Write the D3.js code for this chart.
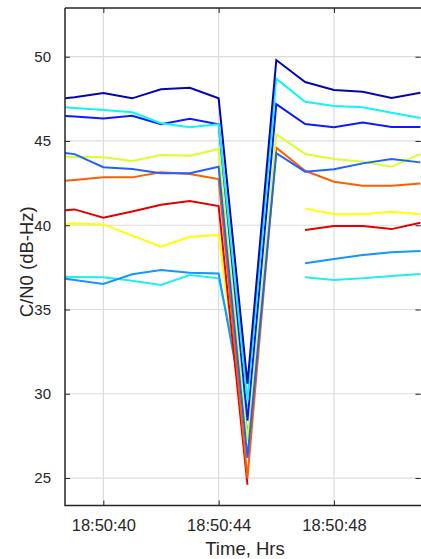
<!DOCTYPE html>
<html>
<head>
<meta charset="utf-8">
<script src="https://cdn.jsdelivr.net/npm/d3@7"></script>
<style>
  html, body { margin: 0; padding: 0; background: #fff; }
  svg { display: block; font-family: "Liberation Sans", Arial, Helvetica, sans-serif; }
</style>
</head>
<body>
<svg id="chart" width="421" height="559"></svg>
<script>
// C/N0 per satellite around 18:50:44 (seconds within 18:50)
const seconds = [38, 39, 40, 41, 42, 43, 44, 45, 46, 47, 48, 49, 50, 51];

const darkBlue   = [47.40, 47.60, 47.85, 47.53, 48.07, 48.16, 47.53, 30.6, 49.80, 48.50, 48.02, 47.92, 47.55, 47.86];
const cyan       = [47.08, 46.96, 46.84, 46.70, 46.05, 45.81, 45.99, 29.6, 48.70, 47.33, 47.07, 47.00, 46.68, 46.36];
const blue       = [46.56, 46.45, 46.34, 46.50, 46.00, 46.32, 45.99, 28.4, 47.19, 46.00, 45.81, 46.10, 45.83, 45.83];
const azure      = [44.40, 44.22, 43.44, 43.34, 43.08, 43.08, 43.47, 26.2, 44.27, 43.18, 43.32, 43.67, 43.93, 43.73];
const lime       = [44.09, 44.06, 44.03, 43.81, 44.17, 44.12, 44.52, 27.2, 45.40, 44.23, 43.93, 43.77, 43.47, 44.23];
const orange     = [42.54, 42.69, 42.84, 42.84, 43.14, 43.04, 42.74, 25.0, 44.60, 43.23, 42.58, 42.34, 42.34, 42.48];
const red        = [40.80, 40.94, 40.45, 40.82, 41.22, 41.44, 41.14, 24.6, null, 39.72, 39.95, 39.95, 39.77, 40.15];
const yellow     = [40.00, 40.10, 40.05, 39.38, 38.72, 39.32, 39.42, 26.6, null, 41.00, 40.65, 40.65, 40.80, 40.65];
const skyBlue    = [37.00, 36.75, 36.51, 37.09, 37.34, 37.18, 37.14, 27.8, null, 37.74, 37.99, 38.23, 38.39, 38.47];
const aqua       = [36.95, 36.93, 36.91, 36.71, 36.45, 37.04, 36.85, 29.2, null, 36.91, 36.75, 36.85, 36.99, 37.10];

const series = [
  { color: "#1ff0ec", values: aqua },
  { color: "#1296ff", values: skyBlue },
  { color: "#ffff00", values: yellow },
  { color: "#e30000", values: red },
  { color: "#ff5e00", values: orange },
  { color: "#dcff28", values: lime },
  { color: "#1f62ff", values: azure },
  { color: "#0a1cff", values: blue },
  { color: "#10f4f4", values: cyan },
  { color: "#0505b4", values: darkBlue }
];

const xTicks = [40, 44, 48];
const yTicks = [25, 30, 35, 40, 45, 50];

// layout
const M = { left: 65, right: 0, top: 8, bottom: 53.5 };
const W = 421 - M.left - M.right;
const H = 559 - M.top - M.bottom;

const toDate = s => new Date(2000, 0, 1, 18, 50, Math.floor(s), Math.round((s % 1) * 1000));

const x = d3.scaleTime().domain([toDate(38.67), toDate(51.02)]).range([0, W]);
const y = d3.scaleLinear().domain([23.37, 52.89]).range([H, 0]);

const svg = d3.select("#chart");
const g = svg.append("g").attr("transform", `translate(${M.left},${M.top})`);

g.append("clipPath").attr("id", "plot-clip")
  .append("rect").attr("width", W).attr("height", H);

// grid
const grid = g.append("g").attr("stroke", "#dcdcdc").attr("stroke-width", 1.2);
grid.selectAll("line.gx").data(xTicks).join("line")
  .attr("class", "gx")
  .attr("x1", d => x(toDate(d))).attr("x2", d => x(toDate(d)))
  .attr("y1", 0).attr("y2", H);
grid.selectAll("line.gy").data(yTicks).join("line")
  .attr("class", "gy")
  .attr("x1", 0).attr("x2", W)
  .attr("y1", d => y(d)).attr("y2", d => y(d));

// lines
const line = d3.line()
  .defined(d => d.v != null)
  .x(d => x(toDate(d.t)))
  .y(d => y(d.v));

g.append("g").attr("clip-path", "url(#plot-clip)")
  .selectAll("path")
  .data(series)
  .join("path")
  .attr("fill", "none")
  .attr("stroke", d => d.color)
  .attr("stroke-width", 2)
  .attr("stroke-linejoin", "miter")
  .attr("d", d => line(seconds.map((t, i) => ({ t, v: d.values[i] }))));

// axes
const axisColor = "#262626";
const fmt = d3.timeFormat("%H:%M:%S");

const gx = g.append("g").attr("transform", `translate(0,${H})`)
  .call(d3.axisBottom(x).tickValues(xTicks.map(toDate)).tickFormat(fmt)
    .tickSizeInner(-5).tickSizeOuter(0).tickPadding(14));
gx.selectAll("text").attr("font-size", 16.5);

const gy = g.append("g")
  .call(d3.axisLeft(y).tickValues(yTicks).tickSizeInner(-5).tickSizeOuter(0).tickPadding(14));
gy.selectAll("text").attr("font-size", 15);

g.append("g").call(d3.axisTop(x).tickValues(xTicks.map(toDate)).tickFormat("")
  .tickSizeInner(-5).tickSizeOuter(0));
g.append("g").attr("transform", `translate(${W - 0.5},0)`)
  .call(d3.axisRight(y).tickValues(yTicks).tickFormat("").tickSizeInner(-5).tickSizeOuter(0));

g.selectAll(".domain").remove();
g.selectAll(".tick line").attr("stroke", axisColor);
g.selectAll(".tick text").attr("fill", axisColor).attr("font-family", null);

// box
g.append("path")
  .attr("d", `M0,0H${W}M0,0V${H}H${W}`)
  .attr("fill", "none")
  .attr("stroke", axisColor)
  .attr("stroke-width", 1.5);

// labels
svg.append("text")
  .attr("x", M.left + W / 2 + 2).attr("y", 555)
  .attr("text-anchor", "middle")
  .attr("font-size", 18.5)
  .attr("fill", axisColor)
  .text("Time, Hrs");

svg.append("text")
  .attr("transform", `translate(33,${M.top + H / 2 + 5}) rotate(-90)`)
  .attr("text-anchor", "middle")
  .attr("font-size", 18.5)
  .attr("fill", axisColor)
  .text("C/N0 (dB-Hz)");
</script>
</body>
</html>
